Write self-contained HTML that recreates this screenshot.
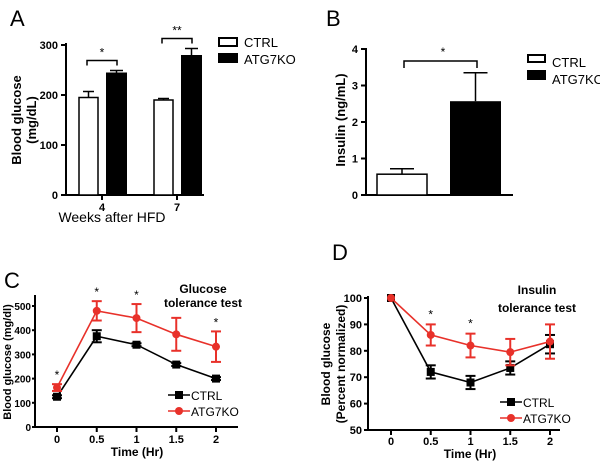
<!DOCTYPE html>
<html><head><meta charset="utf-8"><style>
body{margin:0;background:#fff}
svg{display:block;font-family:"Liberation Sans",Arial,sans-serif}
</style></head><body>
<svg id="s" width="600" height="464" viewBox="0 0 600 464">
<g id="gA"></g>
<g id="gB"></g>
<g id="gC"></g>
<g id="gD"></g>
</svg>
<script>
// Panel A data
const aWeeks=["4","7"];
const aCtrl=[195,190];
const aCtrlErr=[12,3];
const aKo=[245,280];
const aKoErr=[4,13];
const aTicks=[0,100,200,300];
// Panel B data
const bCats=["CTRL","ATG7KO"];
const bVals=[0.57,2.57];
const bErr=[0.15,0.78];
const bTicks=[0,1,2,3,4];
// Panel C data
const cTimes=[0,0.5,1,1.5,2];
const cCtrl=[125,375,340,258,200];
const cCtrlErr=[6,25,6,6,6];
const cKo=[163,480,450,383,332];
const cKoErr=[14,40,58,68,63];
const cStars=[0,0.5,1,2];
const cTicks=[0,100,200,300,400,500];
const xTickLabels=["0","0.5","1","1.5","2"];
// Panel D data
const dCtrl=[100,72,68,73.5,82.5];
const dCtrlErr=[0,2.5,2.5,2.5,3.5];
const dKo=[100,86,82,79.5,83.5];
const dKoErr=[0,4,4.5,5,6.5];
const dStars=[0.5,1];
const dTicks=[50,60,70,80,90,100];

const NS="http://www.w3.org/2000/svg";
function mk(p,tag,at,txt){const e=document.createElementNS(NS,tag);for(const k in at)e.setAttribute(k,at[k]);if(txt!==undefined)e.textContent=txt;p.appendChild(e);return e;}
function line(p,x1,y1,x2,y2,c,w,name){const e=mk(p,'line',{x1,y1,x2,y2,stroke:c||'#000','stroke-width':w||2});

return e;}
function text(p,x,y,t,size,anchor,bold,name,extra){const e=mk(p,'text',Object.assign({x,y,'font-size':size,'text-anchor':anchor||'middle','font-weight':bold?'bold':'normal'},extra||{}),t);

return e;}

// ---------- Panel A ----------
(function(){
const g=document.getElementById('gA');
const y=v=>195-v*50/100;
text(g,10,26,'A',22,'start',false,'panel-a-letter');
line(g,66,43,66,196,'#000',2,'y-axis');
line(g,65,195,204,195,'#000',2,'x-axis');
aTicks.forEach(t=>{line(g,61,y(t),66,y(t),'#000',2,'y-tick');text(g,58,y(t)+4,String(t),11,'end',true,'y-tick-label');});
const centers=[102,177];
aWeeks.forEach((w,i)=>{
 const cx=centers[i];
 line(g,cx,195,cx,200,'#000',2,'x-tick');
 text(g,cx,211,w,11,'middle',true,'x-tick-label');
 const cX=cx-23,kX=cx+4;
 const r1=mk(g,'rect',{x:cX,y:y(aCtrl[i]),width:19,height:195-y(aCtrl[i]),fill:'#fff',stroke:'#000','stroke-width':1.5});
 
 
 line(g,cX+9.5,y(aCtrl[i]),cX+9.5,y(aCtrl[i]+aCtrlErr[i]),'#000',1.5,'error-bar');
 line(g,cX+4,y(aCtrl[i]+aCtrlErr[i]),cX+15,y(aCtrl[i]+aCtrlErr[i]),'#000',1.5,'error-cap');
 const r2=mk(g,'rect',{x:kX,y:y(aKo[i]),width:21,height:195-y(aKo[i]),fill:'#000'});
 
 
 line(g,kX+10.5,y(aKo[i]),kX+10.5,y(aKo[i]+aKoErr[i]),'#000',1.5,'error-bar');
 line(g,kX+4,y(aKo[i]+aKoErr[i]),kX+17,y(aKo[i]+aKoErr[i]),'#000',1.5,'error-cap');
 const top=y(Math.max(aCtrl[i]+aCtrlErr[i],aKo[i]+aKoErr[i]))-10;
 const bx1=cX+8,bx2=kX+11;
 const pth=mk(g,'path',{d:`M${bx1},${top+5}V${top}H${bx2}V${top+5}`,fill:'none',stroke:'#000','stroke-width':1.5});
 
 
 text(g,(bx1+bx2)/2,top-4,i===0?'*':'**',12,'middle',false,'significance-star');
});
text(g,112,222,'Weeks after HFD',14,'middle',false,'x-axis-title');
text(g,0,0,'Blood glucose',13,'middle',true,'y-axis-title',{transform:'translate(21,120) rotate(-90)'});
text(g,0,0,'(mg/dL)',13,'middle',true,'y-axis-title-units',{transform:'translate(36,120) rotate(-90)'});
const l1=mk(g,'rect',{x:219,y:38,width:18,height:8,fill:'#fff',stroke:'#000','stroke-width':2});

const l2=mk(g,'rect',{x:218,y:53,width:20,height:10,fill:'#000'});

text(g,244,47,'CTRL',13,'start',false,'legend-ctrl');
text(g,244,64,'ATG7KO',13,'start',false,'legend-atg7ko');
})();

// ---------- Panel B ----------
(function(){
const g=document.getElementById('gB');
const y=v=>195-v*36.5;
text(g,326,26,'B',22,'start',false,'panel-b-letter');
line(g,366,48,366,196,'#000',2,'y-axis');
line(g,365,195,513,195,'#000',2,'x-axis');
bTicks.forEach(t=>{line(g,361,y(t),366,y(t),'#000',2,'y-tick');text(g,358,y(t)+4,String(t),11,'end',true,'y-tick-label');});
const xs=[377,450],ws=[50,51];
bCats.forEach((c,i)=>{
 const r=mk(g,'rect',{x:xs[i],y:y(bVals[i]),width:ws[i],height:195-y(bVals[i]),fill:i?'#000':'#fff',stroke:'#000','stroke-width':i?0:1.5});
 
 
 const cx=xs[i]+ws[i]/2;
 line(g,cx,y(bVals[i]),cx,y(bVals[i]+bErr[i]),'#000',1.5,'error-bar');
 line(g,cx-12,y(bVals[i]+bErr[i]),cx+12,y(bVals[i]+bErr[i]),'#000',1.5,'error-cap');
});
const pth=mk(g,'path',{d:'M404,68V61H477V68',fill:'none',stroke:'#000','stroke-width':1.5});

text(g,443,56,'*',12,'middle',false,'significance-star');
text(g,0,0,'Insulin (ng/mL)',13,'middle',true,'y-axis-title',{transform:'translate(345,120) rotate(-90)'});
const l1=mk(g,'rect',{x:528,y:55,width:17,height:7,fill:'#fff',stroke:'#000','stroke-width':2});

const l2=mk(g,'rect',{x:527,y:70,width:19,height:10,fill:'#000'});

text(g,552,67,'CTRL',13,'start',false,'legend-ctrl');
text(g,552,84,'ATG7KO',13,'start',false,'legend-atg7ko');
})();

// ---------- line chart helper ----------
function lineChart(g,o){
 const {x,y}=o;
 o.series.forEach(s=>{
  const pts=cTimes.map((t,i)=>x(t)+','+y(s.vals[i])).join(' ');
  const pl=mk(g,'polyline',{points:pts,fill:'none',stroke:s.color,'stroke-width':1.6});
  
  
  cTimes.forEach((t,i)=>{
   const v=s.vals[i],e=s.err[i],cx=x(t);
   if(e>0){
    line(g,cx,y(v-e),cx,y(v+e),s.color,2,s.name+'-error-bar');
    line(g,cx-5,y(v+e),cx+5,y(v+e),s.color,2,s.name+'-error-cap');
    line(g,cx-5,y(v-e),cx+5,y(v-e),s.color,2,s.name+'-error-cap');
   }
   let m;
   if(s.square){m=mk(g,'rect',{x:cx-4,y:y(v)-4,width:8,height:8,fill:s.color});}
   else{m=mk(g,'circle',{cx:cx,cy:y(v),r:4,fill:s.color});}
   
   
  });
 });
}

// ---------- Panel C ----------
(function(){
const g=document.getElementById('gC');
const x=t=>57+t*79.5;
const y=v=>427-v*0.242;
text(g,4,288,'C',22,'start',false,'panel-c-letter');
line(g,35,295,35,428,'#000',2,'y-axis');
line(g,34,427,238,427,'#000',2,'x-axis');
cTicks.forEach(t=>{line(g,32,y(t),35,y(t),'#000',2,'y-tick');text(g,31,y(t)+4,String(t),10,'end',true,'y-tick-label');});
cTimes.forEach((t,i)=>{line(g,x(t),427,x(t),432,'#000',2,'x-tick');text(g,x(t),443,xTickLabels[i],11,'middle',true,'x-tick-label');});
lineChart(g,{x,y,series:[
 {name:'ctrl',vals:cCtrl,err:cCtrlErr,color:'#000',square:true},
 {name:'atg7ko',vals:cKo,err:cKoErr,color:'#e8312a',square:false}]});
cStars.forEach(t=>{const i=cTimes.indexOf(t);text(g,x(t),y(cKo[i]+cKoErr[i])-5,'*',12,'middle',false,'significance-star');});
text(g,203,293,'Glucose',12,'middle',true,'chart-title-line1');
text(g,203,307,'tolerance test',12,'middle',true,'chart-title-line2');
text(g,137,456,'Time (Hr)',12,'middle',true,'x-axis-title');
text(g,0,0,'Blood glucose (mg/dl)',11,'middle',true,'y-axis-title',{transform:'translate(11,362) rotate(-90)'});
line(g,168,395,190,395,'#000',1.6,'legend-ctrl-line');
const m1=mk(g,'rect',{x:175,y:391,width:8,height:8,fill:'#000'});
text(g,191,400,'CTRL',12,'start',false,'legend-ctrl');
line(g,168,411,190,411,'#e8312a',1.6,'legend-atg7ko-line');
const m2=mk(g,'circle',{cx:179,cy:411,r:4,fill:'#e8312a'});
text(g,191,416,'ATG7KO',12,'start',false,'legend-atg7ko');
})();

// ---------- Panel D ----------
(function(){
const g=document.getElementById('gD');
const x=t=>391+t*79.5;
const y=v=>430-(v-50)*2.64;
text(g,332,260,'D',22,'start',false,'panel-d-letter');
line(g,368,296,368,431,'#000',2,'y-axis');
line(g,367,430,560,430,'#000',2,'x-axis');
dTicks.forEach(t=>{line(g,364,y(t),368,y(t),'#000',2,'y-tick');text(g,362,y(t)+4,String(t),11,'end',true,'y-tick-label');});
cTimes.forEach((t,i)=>{line(g,x(t),430,x(t),435,'#000',2,'x-tick');text(g,x(t),445,xTickLabels[i],11,'middle',true,'x-tick-label');});
lineChart(g,{x,y,series:[
 {name:'ctrl',vals:dCtrl,err:dCtrlErr,color:'#000',square:true},
 {name:'atg7ko',vals:dKo,err:dKoErr,color:'#e8312a',square:false}]});
dStars.forEach(t=>{const i=cTimes.indexOf(t);text(g,x(t),y(dKo[i]+dKoErr[i])-6,'*',12,'middle',false,'significance-star');});
text(g,537,294,'Insulin',12,'middle',true,'chart-title-line1');
text(g,537,312,'tolerance test',12,'middle',true,'chart-title-line2');
text(g,470,458,'Time (Hr)',12,'middle',true,'x-axis-title');
text(g,0,0,'Blood glucose',12,'middle',true,'y-axis-title',{transform:'translate(330,364) rotate(-90)'});
text(g,0,0,'(Percent normalized)',12,'middle',true,'y-axis-title-units',{transform:'translate(345,364) rotate(-90)'});
line(g,500,402,522,402,'#000',1.6,'legend-ctrl-line');
const m1=mk(g,'rect',{x:507,y:398,width:8,height:8,fill:'#000'});
text(g,523,407,'CTRL',12,'start',false,'legend-ctrl');
line(g,500,418,522,418,'#e8312a',1.6,'legend-atg7ko-line');
const m2=mk(g,'circle',{cx:511,cy:418,r:4,fill:'#e8312a'});
text(g,523,423,'ATG7KO',12,'start',false,'legend-atg7ko');
})();
</script>
</body></html>
